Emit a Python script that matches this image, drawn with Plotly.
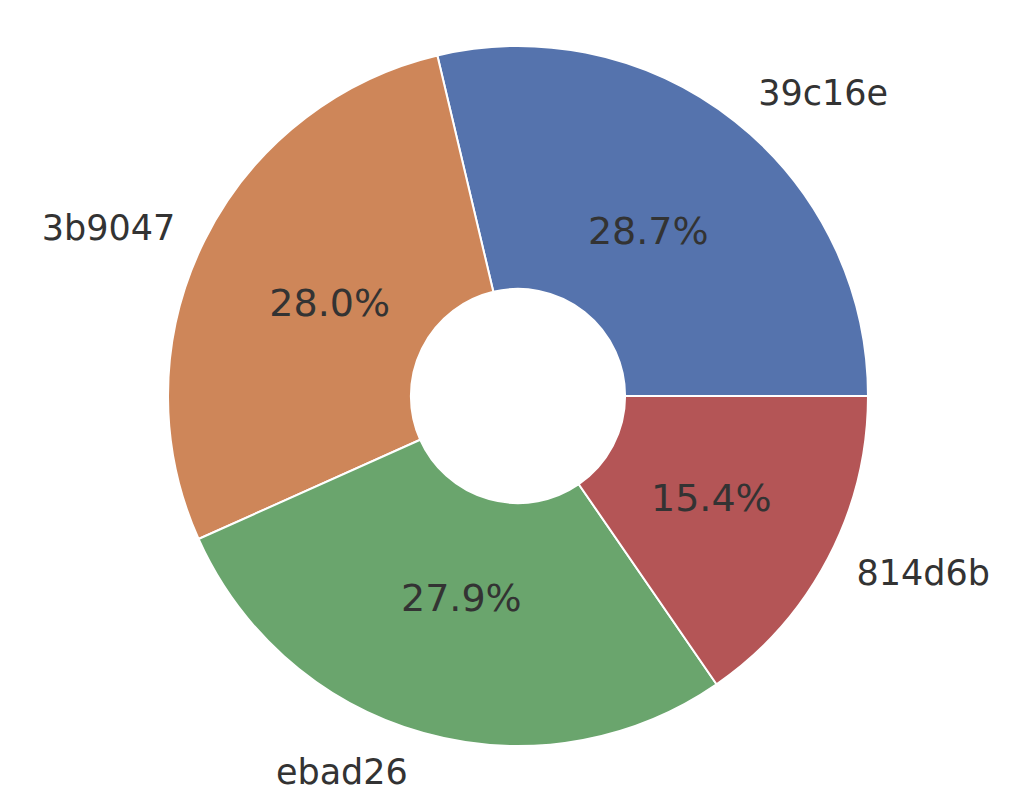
import plotly.graph_objects as go

labels = ["39c16e", "3b9047", "ebad26", "814d6b"]
values = [28.7, 28.0, 27.9, 15.4]
colors = ["#5573AD", "#CE8659", "#6AA56D", "#B45556"]

W, H = 1024, 799
OFF = 8                # page body margin
cx, cy = 518 - OFF, 396 - OFF   # pie centre in figure px (from top-left)
R = 350                # outer radius px
R_pct = 320            # radius of the (invisible) ring carrying percentages
R_lab = 371            # radius of the (invisible) ring carrying labels

# first slice starts at 3 o'clock and runs counter-clockwise
rotation = 90 - 360 * values[0] / sum(values)

def dom(r):
    return dict(x=[(cx - r) / W, (cx + r) / W],
                y=[(H - cy - r) / H, (H - cy + r) / H])

common = dict(labels=labels, values=values, sort=False,
              direction="counterclockwise", rotation=rotation,
              showlegend=False)

fig = go.Figure()
fig.add_trace(go.Pie(
    **common, hole=0.306, domain=dom(R),
    marker=dict(colors=colors, line=dict(color="white", width=2)),
    textinfo="none", hoverinfo="label+percent",
))
fig.add_trace(go.Pie(
    **common, hole=100 / R_pct, domain=dom(R_pct),
    marker=dict(colors=["rgba(0,0,0,0)"] * 4, line=dict(width=0)),
    texttemplate="%{percent:.1%}", textposition="inside",
    insidetextorientation="horizontal",
    insidetextfont=dict(family="DejaVu Sans", size=38, color="#333333"),
    hoverinfo="skip",
))
fig.add_trace(go.Pie(
    **common, hole=0.95, domain=dom(R_lab),
    marker=dict(colors=["rgba(0,0,0,0)"] * 4, line=dict(width=0)),
    texttemplate="%{label}", textposition="outside",
    outsidetextfont=dict(family="DejaVu Sans", size=35, color="#333333"),
    hoverinfo="skip",
))
fig.update_layout(width=W, height=H, margin=dict(l=0, r=0, t=0, b=0),
                  paper_bgcolor="white", plot_bgcolor="white")
fig.write_html("out.html")
